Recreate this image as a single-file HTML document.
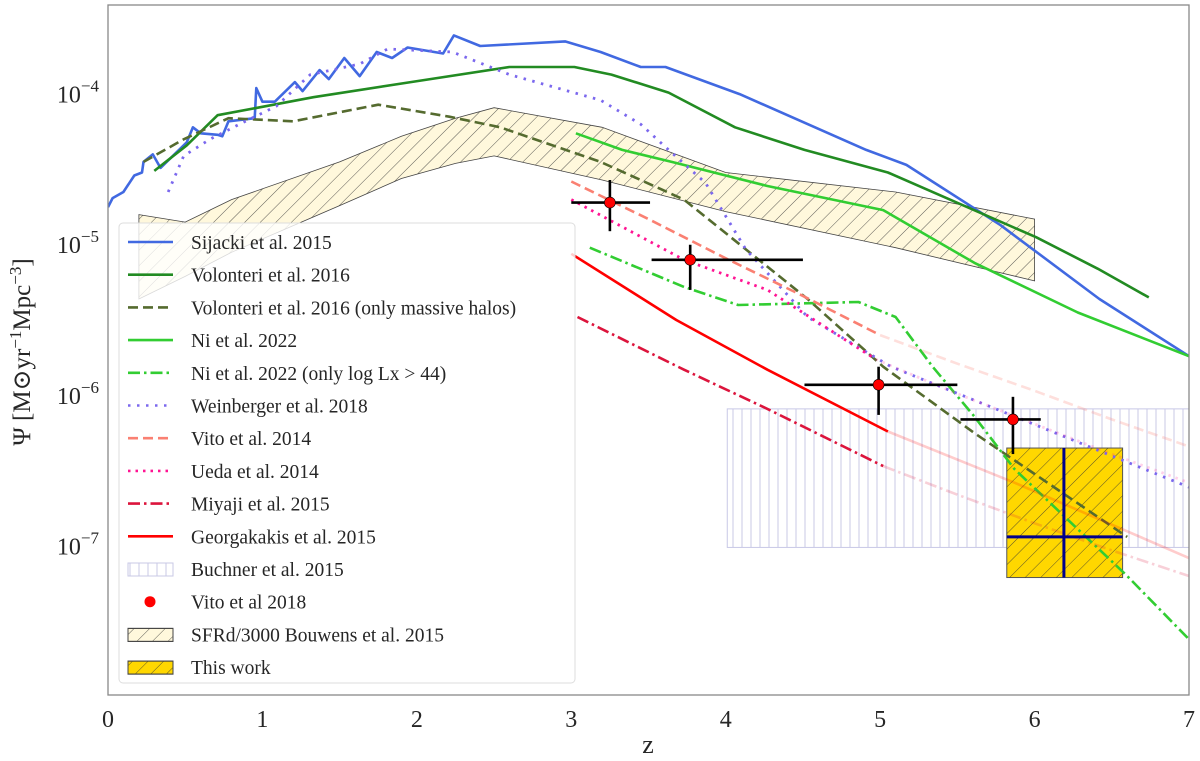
<!DOCTYPE html>
<html><head><meta charset="utf-8"><style>
html,body{margin:0;padding:0;background:#fff;width:1200px;height:761px;overflow:hidden}
svg text{font-family:"Liberation Serif","DejaVu Serif",serif;fill:#262626}
</style></head><body>
<svg id="chart" width="1200" height="761" viewBox="0 0 1200 761" xmlns="http://www.w3.org/2000/svg">
<defs>
<pattern id="hatchDiag" patternUnits="userSpaceOnUse" width="11" height="11" patternTransform="rotate(45)"><line x1="0" y1="0" x2="0" y2="11" stroke="#333" stroke-width="0.8"/></pattern>
<pattern id="hatchVert" patternUnits="userSpaceOnUse" width="9" height="9"><line x1="4" y1="0" x2="4" y2="9" stroke="#c8c8e6" stroke-width="1"/></pattern>
<clipPath id="plotClip"><rect x="108" y="5" width="1081" height="690"/></clipPath>
</defs>
<g id="plot" clip-path="url(#plotClip)"></g>
<rect x="108" y="5" width="1081" height="690" fill="none" stroke="#888" stroke-width="1.3"/>
<g id="axes"></g>
<g id="legend"></g>
</svg>
<script>
// ---- data (z, log10 Psi) ----
const sijackiZ=[0,0.03,0.10,0.17,0.22,0.23,0.29,0.34,0.51,0.55,0.60,0.71,0.74,0.78,0.95,0.96,1.00,1.08,1.21,1.26,1.37,1.43,1.53,1.63,1.74,1.84,1.94,2.17,2.24,2.41,2.96,3.19,3.45,3.61,4.09,4.91,5.17,5.78,6.42,7.0];
const sijackiL=[-4.76,-4.70,-4.66,-4.55,-4.53,-4.46,-4.41,-4.50,-4.33,-4.23,-4.27,-4.28,-4.29,-4.19,-4.17,-3.97,-4.06,-4.06,-3.93,-3.99,-3.85,-3.91,-3.77,-3.89,-3.73,-3.77,-3.70,-3.74,-3.62,-3.69,-3.66,-3.73,-3.83,-3.83,-4.01,-4.38,-4.48,-4.88,-5.37,-5.75];
const volZ=[0.30,0.51,0.71,0.97,1.33,1.96,2.60,3.02,3.26,3.63,4.06,4.51,5.05,6.01,6.41,6.74];
const volL=[-4.52,-4.35,-4.15,-4.10,-4.03,-3.93,-3.83,-3.83,-3.88,-4.00,-4.23,-4.38,-4.53,-4.96,-5.17,-5.36];
const volMZ=[0.23,0.49,0.78,1.20,1.75,2.21,2.54,3.19,3.73,4.53,5.02,5.61,6.60];
const volML=[-4.46,-4.31,-4.17,-4.19,-4.08,-4.16,-4.23,-4.46,-4.71,-5.37,-5.82,-6.26,-6.95];
const niZ=[3.03,3.33,3.65,4.27,5.02,5.61,6.28,7.0];
const niL=[-4.27,-4.38,-4.46,-4.62,-4.78,-5.13,-5.46,-5.75];
const niLxZ=[3.12,3.73,4.08,4.86,5.10,5.34,5.61,5.87,6.60,7.0];
const niLxL=[-5.03,-5.29,-5.41,-5.39,-5.49,-5.82,-6.15,-6.50,-7.21,-7.63];
const weinZ=[0.39,0.49,0.66,0.85,1.09,1.31,1.63,1.81,2.23,2.60,3.19,3.45,3.63,3.87,4.13,4.53,5.07,5.87,7.0];
const weinL=[-4.66,-4.42,-4.31,-4.21,-4.09,-3.88,-3.81,-3.71,-3.73,-3.88,-4.05,-4.21,-4.38,-4.60,-5.04,-5.49,-5.82,-6.15,-6.62];
const vito14Z=[3.0,3.5,4.0,4.5,5.0,5.5,6.0,6.5,7.0];
const vito14L=[-4.59,-4.84,-5.10,-5.35,-5.61,-5.80,-5.98,-6.17,-6.35];
const uedaZ=[3.0,3.73,4.27,4.97,5.5,6.0,6.5,7.0];
const uedaL=[-4.71,-5.11,-5.31,-5.77,-6.00,-6.20,-6.40,-6.59];
const miyZ=[3.04,3.73,4.27,5.02,5.5,6.0,6.5,7.0];
const miyL=[-5.49,-5.84,-6.10,-6.48,-6.67,-6.86,-7.04,-7.21];
const geoZ=[3.0,3.68,4.27,5.05,5.87,7.0];
const geoL=[-5.07,-5.51,-5.84,-6.25,-6.59,-7.09];
const bouZ=[0.2,0.5,0.8,1.5,1.9,2.25,2.5,3.2,4.0,5.1,6.0];
const bouUpper=[-4.81,-4.86,-4.71,-4.46,-4.29,-4.17,-4.10,-4.23,-4.53,-4.66,-4.84];
const bouLower=[-5.37,-5.22,-5.06,-4.75,-4.57,-4.47,-4.42,-4.58,-4.79,-5.03,-5.25];
const vito18Z=[3.25,3.77,4.99,5.86];
const vito18L=[-4.73,-5.11,-5.94,-6.17];
const vito18Zlo=[3.0,3.52,4.51,5.52];
const vito18Zhi=[3.51,4.50,5.50,6.04];
const vito18Llo=[-4.92,-5.31,-6.14,-6.40];
const vito18Lhi=[-4.58,-5.01,-5.82,-6.02];
const buchnerZ=[4.01,7.0];
const buchnerL=[-7.02,-6.10];
const thisZ=[5.82,6.57];
const thisL=[-7.22,-6.36];
const thisCentreZ=6.19, thisCentreL=-6.95;
const xTicks=[0,1,2,3,4,5,6,7];
const yTicks=[-7,-6,-5,-4];

// ---- axes ----
const X0=108,X1=1189,Y0=695,Y1=5;
const zMin=0,zMax=7, lMin=-8.0, lMax=-3.418;
function sx(z){return X0+(z-zMin)/(zMax-zMin)*(X1-X0);}
function sy(l){return Y0-(l-lMin)/(lMax-lMin)*(Y0-Y1);}
const NS='http://www.w3.org/2000/svg';
const plot=document.getElementById('plot');
function mk(tag,attrs,parent){const e=document.createElementNS(NS,tag);for(const k in attrs)e.setAttribute(k,attrs[k]);parent.appendChild(e);return e;}
function pts(zs,ls,f){let s=[];for(let i=0;i<zs.length;i++){if(!f||f(zs[i]))s.push(sx(zs[i]).toFixed(1)+','+sy(ls[i]).toFixed(1));}return s.join(' ');}
function line(name,zs,ls,color,dash,w,op,f){
 const e=mk('polyline',{points:pts(zs,ls,f),fill:'none',stroke:color,'stroke-width':w||2.6,'stroke-dasharray':dash||'none','stroke-opacity':op||1,'stroke-linejoin':'round'},plot);
 
 
 return e;
}
// Bouwens band
let bp=pts(bouZ,bouUpper)+' '+pts(bouZ.slice().reverse(),bouLower.slice().reverse());
const band=mk('polygon',{points:bp,fill:'#fff8dc',stroke:'#444','stroke-width':0.8},plot);


const bandH=mk('polygon',{points:bp,fill:'url(#hatchDiag)',stroke:'none'},plot);


// Buchner
const bu=mk('rect',{x:sx(buchnerZ[0]),y:sy(buchnerL[1]),width:sx(buchnerZ[1])-sx(buchnerZ[0]),height:sy(buchnerL[0])-sy(buchnerL[1]),fill:'url(#hatchVert)',stroke:'#c8c8e6','stroke-width':1},plot);


// This work box (under lines)
const tw=mk('rect',{x:sx(thisZ[0]),y:sy(thisL[1]),width:sx(thisZ[1])-sx(thisZ[0]),height:sy(thisL[0])-sy(thisL[1]),fill:'#ffd700',stroke:'#555','stroke-width':1},plot);


const twh=mk('rect',{x:sx(thisZ[0]),y:sy(thisL[1]),width:sx(thisZ[1])-sx(thisZ[0]),height:sy(thisL[0])-sy(thisL[1]),fill:'url(#hatchDiag)'},plot);


// lines
line('sijacki-line',sijackiZ,sijackiL,'#4169e1');
line('volonteri-line',volZ,volL,'#228b22');
line('volonteri-massive-line',volMZ,volML,'#556b2f','10,5');
line('ni-line',niZ,niL,'#32cd32');
line('ni-lx44-line',niLxZ,niLxL,'#32cd32','12,4,2.5,4');
line('weinberger-line',weinZ,weinL,'#7b68ee','2.5,6.5',2.8);
line('vito14-line',vito14Z,vito14L,'#fa8072','10,5',2.6,1,z=>z<=5.01);
line('vito14-line-extrap',vito14Z,vito14L,'#fa8072','10,5',2.6,0.25,z=>z>=4.99);
line('ueda-line',uedaZ,uedaL,'#ff1493','2.5,5',2.8,1,z=>z<=5);
line('ueda-line-extrap',[4.97].concat(uedaZ.slice(4)),[-5.77].concat(uedaL.slice(4)),'#ff1493','2.5,5',2.8,0.2);
line('miyaji-line',miyZ,miyL,'#dc143c','12,4,2.5,4',2.6,1,z=>z<=5.03);
line('miyaji-line-extrap',miyZ,miyL,'#dc143c','12,4,2.5,4',2.6,0.2,z=>z>=5.0);
line('georgakakis-line',geoZ,geoL,'#ff0000',null,2.6,1,z=>z<=5.06);
line('georgakakis-line-extrap',geoZ,geoL,'#ff0000',null,2.6,0.2,z=>z>=5.0);
// This work cross
const tv=mk('line',{x1:sx(thisCentreZ),x2:sx(thisCentreZ),y1:sy(thisL[1]),y2:sy(thisL[0]),stroke:'#00008b','stroke-width':3},plot);


const th=mk('line',{x1:sx(thisZ[0]),x2:sx(thisZ[1]),y1:sy(thisCentreL),y2:sy(thisCentreL),stroke:'#00008b','stroke-width':3},plot);


// Vito 2018 points
for(let i=0;i<vito18Z.length;i++){
 const g=mk('g',{},plot);
 
 
 mk('line',{x1:sx(vito18Zlo[i]),x2:sx(vito18Zhi[i]),y1:sy(vito18L[i]),y2:sy(vito18L[i]),stroke:'#000','stroke-width':2.6},g);
 mk('line',{x1:sx(vito18Z[i]),x2:sx(vito18Z[i]),y1:sy(vito18Llo[i]),y2:sy(vito18Lhi[i]),stroke:'#000','stroke-width':2.6},g);
 mk('circle',{cx:sx(vito18Z[i]),cy:sy(vito18L[i]),r:5.5,fill:'#ff0000',stroke:'#000','stroke-width':0.6},g);
}
// ticks
const axes=document.getElementById('axes');
xTicks.forEach(t=>{
 const e=mk('text',{x:sx(t),y:727,'text-anchor':'middle','font-size':24},axes);
 e.textContent=t;
 
 
});
yTicks.forEach(t=>{
 const e=mk('text',{x:99,y:sy(t)+10,'text-anchor':'end','font-size':24},axes);
 e.innerHTML='10<tspan dy="-11" font-size="17">\u2212'+Math.abs(t)+'</tspan>';
 
 
});
const xl=mk('text',{x:648,y:753,'text-anchor':'middle','font-size':26},axes);
xl.textContent='z';


const yl=mk('text',{x:0,y:0,'text-anchor':'middle','font-size':25,transform:'translate(30,352) rotate(-90)'},axes);
yl.innerHTML='\u03a8 [M\u2299yr<tspan dy="-9" font-size="17">\u22121</tspan><tspan dy="9">Mpc</tspan><tspan dy="-9" font-size="17">\u22123</tspan><tspan dy="9">]</tspan>';


// legend
const leg=document.getElementById('legend');
const lb=mk('rect',{x:119,y:223,width:456,height:460,rx:4,fill:'#fff','fill-opacity':0.8,stroke:'#ddd','stroke-width':1},leg);


const entries=[
 ['Sijacki et al. 2015','line','#4169e1','none'],
 ['Volonteri et al. 2016','line','#228b22','none'],
 ['Volonteri et al. 2016 (only massive halos)','line','#556b2f','10,5'],
 ['Ni et al. 2022','line','#32cd32','none'],
 ['Ni et al. 2022 (only log Lx > 44)','line','#32cd32','12,4,2.5,4'],
 ['Weinberger et al. 2018','line','#7b68ee','2.5,6.5'],
 ['Vito et al. 2014','line','#fa8072','10,5'],
 ['Ueda et al. 2014','line','#ff1493','2.5,5'],
 ['Miyaji et al. 2015','line','#dc143c','12,4,2.5,4'],
 ['Georgakakis et al. 2015','line','#ff0000','none'],
 ['Buchner et al. 2015','buchner'],
 ['Vito et al 2018','dot'],
 ['SFRd/3000 Bouwens et al. 2015','bouwens'],
 ['This work','thiswork']
];
entries.forEach((en,i)=>{
 const y=242+i*32.7;
 const g=mk('g',{},leg);
 
 
 if(en[1]==='line') mk('line',{x1:128,x2:173,y1:y,y2:y,stroke:en[2],'stroke-width':2.6,'stroke-dasharray':en[3]},g);
 else if(en[1]==='dot') mk('circle',{cx:150,cy:y,r:5.5,fill:'#ff0000'},g);
 else if(en[1]==='buchner') mk('rect',{x:128,y:y-6,width:45,height:13,fill:'url(#hatchVert)',stroke:'#c8c8e6'},g);
 else if(en[1]==='bouwens'){mk('rect',{x:128,y:y-6,width:45,height:13,fill:'#fff8dc',stroke:'#444'},g);mk('rect',{x:128,y:y-6,width:45,height:13,fill:'url(#hatchDiag)',stroke:'#444'},g);}
 else {mk('rect',{x:128,y:y-6,width:45,height:13,fill:'#ffd700',stroke:'#444'},g);mk('rect',{x:128,y:y-6,width:45,height:13,fill:'url(#hatchDiag)',stroke:'#444'},g);}
 const t=mk('text',{x:191,y:y+7,'font-size':19.5},g);
 t.textContent=en[0];
});
</script>
</body></html>
